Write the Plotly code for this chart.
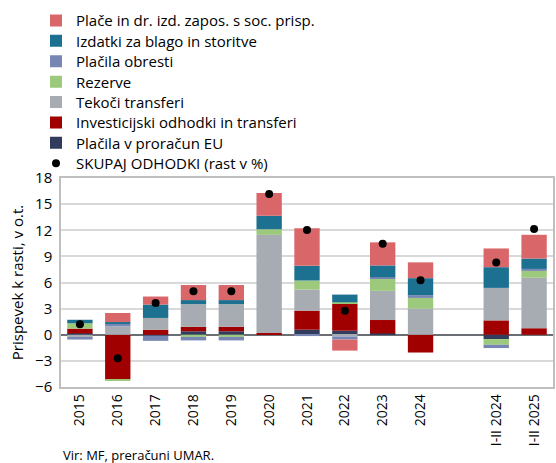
import plotly.graph_objects as go

categories = ["2015", "2016", "2017", "2018", "2019", "2020", "2021", "2022",
              "2023", "2024", "I-II 2024", "I-II 2025"]
x_pos = [0, 1, 2, 3, 4, 5, 6, 7, 8, 9, 11, 12]

eu = [0.15, 0.0, -0.1, 0.4, 0.4, 0.0, 0.58, 0.46, 0.15, 0.0, -0.5, 0.0]
invest = [0.55, -5.1, 0.58, 0.5, 0.5, 0.2, 2.19, 3.08, 1.54, -2.04, 1.65, 0.75]
tekoci = [-0.25, 0.96, 1.35, 2.62, 2.62, 11.27, 2.42, -0.2, 3.35, 3.0, 3.73, 5.81]
rezerve = [0.62, -0.15, 0.0, -0.25, -0.25, 0.65, 1.04, 0.19, 1.38, 1.23, -0.65, 0.77]
obresti = [-0.3, 0.27, -0.6, -0.4, -0.4, 0.0, -0.15, -0.35, 0.19, 0.31, -0.38, 0.23]
izdatki = [0.4, 0.23, 1.54, 0.46, 0.46, 1.54, 1.69, 0.88, 1.35, 1.96, 2.38, 1.19]
place = [0.0, 1.04, 0.92, 1.73, 1.73, 2.62, 4.31, -1.27, 2.65, 1.81, 2.15, 2.73]
skupaj = [1.2, -2.7, 3.65, 5.0, 5.0, 16.15, 12.04, 2.77, 10.46, 6.27, 8.31, 12.15]

# (name, values, colour, legend slot from top)
series = [
    ("Plačila v proračun EU", eu, "#323d5e", 6),
    ("Investicijski odhodki in transferi", invest, "#a10000", 5),
    ("Tekoči transferi", tekoci, "#a6acb2", 4),
    ("Rezerve", rezerve, "#9dc97c", 3),
    ("Plačila obresti", obresti, "#7886b3", 2),
    ("Izdatki za blago in storitve", izdatki, "#1b718f", 1),
    ("Plače in dr. izd. zapos. s soc. prisp.", place, "#d9676a", 0),
]

W, H = 556, 463
M_L, M_R, M_T, M_B = 61, 3, 178, 76
plot_h = H - M_T - M_B
FONT = "Open Sans, Liberation Sans, Arial, sans-serif"


def legend_name(slot):
    return "legend" if slot == 0 else f"legend{slot + 1}"


def legend_cfg(slot):
    yc = 20.7 + 20.4 * slot  # pixel centre of the legend entry
    return dict(
        x=(36 - M_L) / (W - M_L - M_R), xanchor="left",
        y=(H - M_B - yc) / plot_h, yanchor="middle",
        bgcolor="rgba(0,0,0,0)", font=dict(size=15, family=FONT, color="#000"),
        itemwidth=30, borderwidth=0,
    )


fig = go.Figure()
for name, vals, color, slot in series:
    fig.add_trace(go.Bar(
        x=x_pos, y=vals, name=name, marker=dict(color=color, line=dict(width=0)),
        width=0.67, legend=legend_name(slot),
    ))

fig.add_trace(go.Scatter(
    x=x_pos, y=skupaj, name="SKUPAJ ODHODKI (rast v %)", mode="markers",
    marker=dict(color="black", size=8), legend=legend_name(7),
))

layout_legends = {legend_name(s): legend_cfg(s) for s in range(8)}

fig.update_layout(
    barmode="relative",
    width=W, height=H, autosize=False,
    margin=dict(l=M_L, r=M_R, t=M_T, b=M_B, autoexpand=False),
    paper_bgcolor="white", plot_bgcolor="white",
    font=dict(family=FONT, size=14, color="#000000"),
    showlegend=True,
    annotations=[dict(
        text="Vir: MF, preračuni UMAR.", xref="paper", yref="paper",
        x=0.0, y=-(444 - (H - M_B)) / plot_h, xanchor="left", yanchor="top",
        showarrow=False, font=dict(size=13, family=FONT, color="#000000"),
    )],
    **layout_legends,
)

fig.update_xaxes(
    tickmode="array", tickvals=x_pos, ticktext=categories, tickangle=-90,
    range=[-0.5, 12.5], showgrid=False, showline=True, linecolor="#bfbfbf",
    linewidth=1.5, mirror=True, ticks="", zeroline=False,
    tickfont=dict(size=14, family=FONT),
)
fig.update_yaxes(
    range=[-6, 18], tickmode="array", tickvals=list(range(-6, 19, 3)),
    showgrid=True, gridcolor="#d9d9d9", gridwidth=1.5,
    zeroline=True, zerolinecolor="#6b6f73", zerolinewidth=2,
    showline=True, linecolor="#bfbfbf", linewidth=1.5, mirror=True, ticks="",
    tickfont=dict(size=15, family=FONT),
    ticklabelstandoff=4,
    title=dict(text="Prispevek k rasti, v o.t.", standoff=8,
               font=dict(size=15, family=FONT)),
)

fig.write_html(
    "out.html",
    config={"displayModeBar": False},
    post_script="document.body.style.margin='0';document.body.style.overflow='hidden';",
)
